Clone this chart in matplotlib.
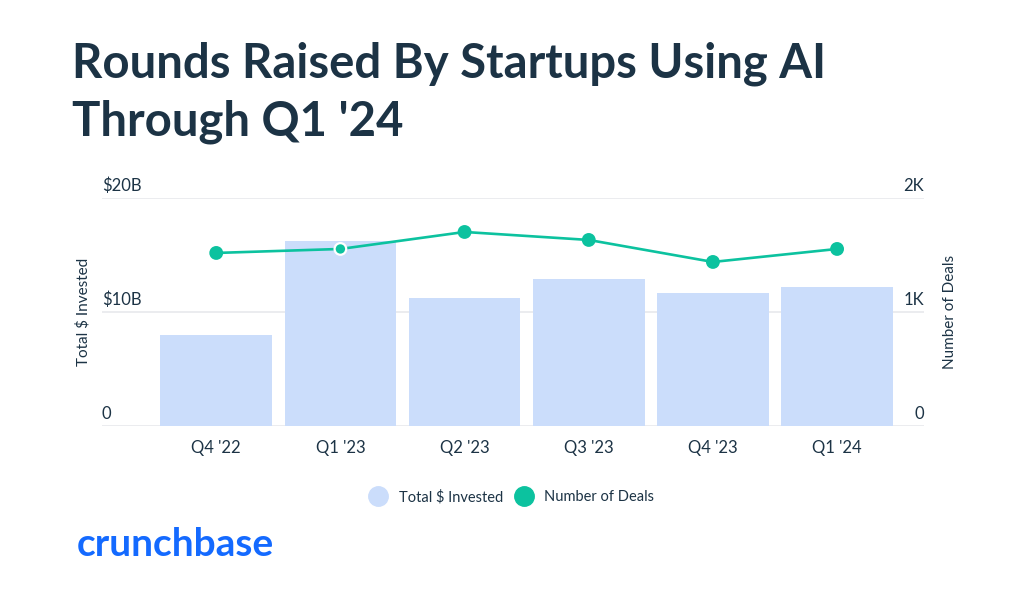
import matplotlib.pyplot as plt
from matplotlib.lines import Line2D
from matplotlib.transforms import ScaledTranslation

quarters = ["Q4 '22", "Q1 '23", "Q2 '23", "Q3 '23", "Q4 '23", "Q1 '24"]
invested_b = [8.0, 16.2, 11.2, 12.9, 11.7, 12.2]
deals = [1518, 1553, 1702, 1632, 1439, 1553]
highlight = 1

left_ticks = [0, 10, 20]
left_labels = ["0", "$10B", "$20B"]
right_ticks = [0, 1000, 2000]
right_labels = ["0", "1K", "2K"]

dark = "#1c3345"
bar_color = "#cbddfb"
line_color = "#0cc29f"
grid_color = "#e7e9ec"

plt.rcParams["font.family"] = ["Lato", "DejaVu Sans"]

fig = plt.figure(figsize=(10.24, 5.93), dpi=100)
ax = fig.add_axes([102 / 1024, 1 - 426 / 593, 822 / 1024, 228 / 593])
ax2 = ax.twinx()
lift = ScaledTranslation(0, 3 / 72, fig.dpi_scale_trans)

x = list(range(len(quarters)))
ax.bar(x, invested_b, width=0.9, color=bar_color, zorder=2)
ax.set_xlim(-0.92, 5.70)
ax.set_ylim(0, 20)
ax.set_yticks(left_ticks)
ax.set_yticklabels(left_labels)
ax.grid(axis="y", color=grid_color, linewidth=1.2, zorder=0)
ax.set_axisbelow(True)
ax.set_xticks(x)
ax.set_xticklabels(quarters)
ax.tick_params(axis="x", length=0, pad=10, labelsize=12, labelcolor=dark)
ax.tick_params(axis="y", length=0, pad=0, labelsize=12, labelcolor=dark)
for lab in ax.get_yticklabels():
    lab.set_horizontalalignment("left")
    lab.set_verticalalignment("bottom")
    lab.set_transform(lab.get_transform() + lift)
for s in ax.spines.values():
    s.set_visible(False)
ax.set_ylabel("Total $ Invested", fontsize=11, color=dark, labelpad=8)

ax2.plot(x, deals, color=line_color, linewidth=1.9, zorder=3)
edges = ["white" if i == highlight else line_color for i in x]
ax2.scatter(x, deals, s=70, color=line_color, edgecolors=edges,
            linewidths=1.6, zorder=4)
ax2.set_ylim(0, 2000)
ax2.set_yticks(right_ticks)
ax2.set_yticklabels(right_labels)
ax2.tick_params(axis="y", length=0, pad=0, labelsize=12, labelcolor=dark)
for lab in ax2.get_yticklabels():
    lab.set_horizontalalignment("right")
    lab.set_verticalalignment("bottom")
    lab.set_transform(lab.get_transform() + lift)
for s in ax2.spines.values():
    s.set_visible(False)
ax2.set_ylabel("Number of Deals", fontsize=11, color=dark, labelpad=14)

handles = [
    Line2D([], [], marker="o", linestyle="none", markersize=14,
           color=bar_color, label="Total $ Invested"),
    Line2D([], [], marker="o", linestyle="none", markersize=14,
           color=line_color, label="Number of Deals"),
]
fig.legend(handles=handles, loc="center", bbox_to_anchor=(0.497, 1 - 497 / 593),
           ncol=2, frameon=False, fontsize=10.5, labelcolor=dark,
           handletextpad=0.4, columnspacing=0.4)

fig.text(72 / 1024, 1 - 77 / 593, "Rounds Raised By Startups Using AI",
         fontsize=34, fontweight="bold", color=dark, va="baseline")
fig.text(72 / 1024, 1 - 135 / 593, "Through Q1 '24",
         fontsize=34, fontweight="bold", color=dark, va="baseline")
fig.text(77 / 1024, 1 - 556 / 593, "crunchbase", fontsize=28,
         fontweight="bold", color="#146aff", va="baseline")

fig.savefig("out.png", dpi=100, facecolor="white")
